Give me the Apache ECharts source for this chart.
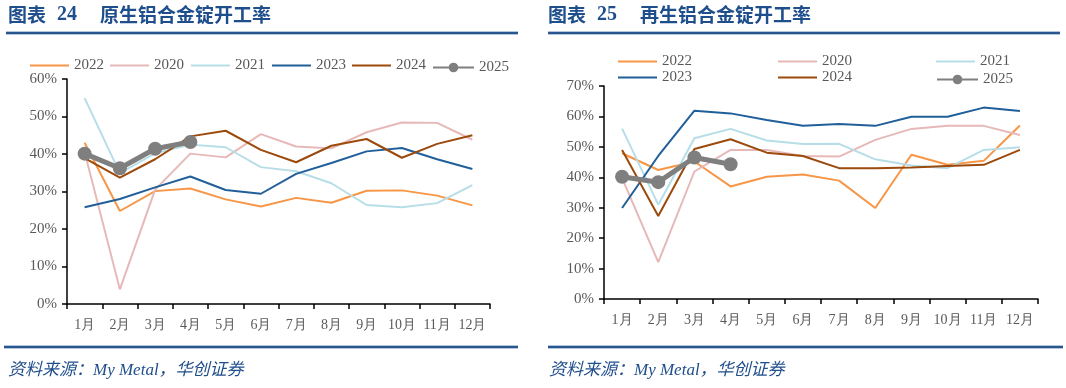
<!DOCTYPE html>
<html><head><meta charset="utf-8">
<script src="https://cdn.jsdelivr.net/npm/echarts@6/dist/echarts.min.js"></script>
<style>html,body{margin:0;padding:0;background:#fff}#c{width:1066px;height:388px}</style>
</head><body><div id="c"></div>
<script>
var months = ['1月','2月','3月','4月','5月','6月','7月','8月','9月','10月','11月','12月'];
var seriesNames = ['2022','2020','2021','2023','2024','2025'];
// Chart 24: primary aluminium alloy ingot operating rate (%)
var p2022 = [43.0,24.8,30.1,30.8,27.9,26.0,28.3,27.0,30.2,30.3,28.9,26.3];
var p2020 = [40.5,3.9,30.5,40.1,39.1,45.3,42.0,41.5,45.8,48.4,48.3,43.8];
var p2021 = [54.9,34.9,40.2,42.5,41.8,36.5,35.4,32.2,26.4,25.8,26.9,31.7];
var p2023 = [25.8,28.0,31.1,34.0,30.4,29.4,34.7,37.6,40.7,41.6,38.6,36.0];
var p2024 = [38.9,33.7,38.6,44.7,46.2,41.1,37.8,42.2,44.0,39.0,42.7,45.0];
var p2025 = [40.1,36.2,41.4,43.2];
// Chart 25: secondary aluminium alloy ingot operating rate (%)
var s2022 = [47.9,42.4,45.2,37.0,40.2,40.9,38.9,29.9,47.4,44.1,45.4,57.0];
var s2020 = [39.7,12.1,41.9,49.0,49.0,47.0,46.8,52.3,55.9,56.9,56.9,53.9];
var s2021 = [56.0,31.0,52.8,55.9,52.1,50.9,51.0,45.9,43.9,43.0,49.0,49.9];
var s2023 = [29.9,47.0,61.9,61.0,58.8,56.9,57.5,56.9,59.9,59.9,62.9,61.8];
var s2024 = [49.0,27.3,49.3,52.5,48.1,47.0,43.0,43.0,43.2,43.7,44.1,49.0];
var s2025 = [40.2,38.4,46.5,44.3];
var yTicks1 = {min:0,max:60,interval:10};
var yTicks2 = {min:0,max:70,interval:10};

var colors = {'2022':'#F79646','2020':'#E6B9B8','2021':'#B7DEE8','2023':'#215F9A','2024':'#9C4A0C','2025':'#7F7F7F'};
var serif = '"Liberation Serif","Times New Roman",serif';
var gray = '#595959';
var blue = '#1F4E8C';

function mkSeries(name, data, idx){
  var is25 = name === '2025';
  return {
    name: name, type:'line', data:data, xAxisIndex:idx, yAxisIndex:idx,
    showSymbol: is25, symbol:'circle', symbolSize: is25 ? 14 : 0,
    lineStyle:{width: is25 ? 5 : 2, color: colors[name]},
    itemStyle:{color: colors[name]},
    z: is25 ? 10 : 2, animation:false
  };
}
var series = [];
var d1 = [p2022,p2020,p2021,p2023,p2024,p2025];
var d2 = [s2022,s2020,s2021,s2023,s2024,s2025];
seriesNames.forEach(function(n,i){ series.push(mkSeries(n,d1[i],0)); });
seriesNames.forEach(function(n,i){ series.push(mkSeries(n,d2[i],1)); });

function xAx(g){
  return {type:'category', gridIndex:g, data:months, boundaryGap:true,
    axisLine:{lineStyle:{color:'#000',width:1.5}},
    axisTick:{show:true,alignWithLabel:false,length:5,lineStyle:{color:'#000',width:1.5}},
    axisLabel:{color:gray,fontFamily:serif,fontSize:14,margin:14,interval:0}};
}
function yAx(g,t){
  return {type:'value', gridIndex:g, min:t.min, max:t.max, interval:t.interval,
    axisLine:{show:true,lineStyle:{color:'#000',width:1.5}},
    axisTick:{show:true,length:5,lineStyle:{color:'#000',width:1.5}},
    splitLine:{show:false},
    axisLabel:{color:gray,fontFamily:serif,fontSize:15,margin:10,formatter:'{value}%'}};
}

var legends = [];
var leg1 = [[30,66],[110,66],[191,66],[272,66],[352,66],[432,66]];
var leg2 = [[618,62],[778,62],[936,62],[618,78],[778,78],[936,78]];
function addLegend(name,pos){
  var is25 = name==='2025';
  var item = is25 ? {name:name} : {name:name, icon:'rect'};
  legends.push({data:[item],
    left:pos[0], top:pos[1]-(is25?6:8), itemWidth: is25 ? 41 : 39, itemHeight: is25 ? 12 : 2.2, itemGap:3,
    textStyle:{color:gray,fontFamily:serif,fontSize:15,padding:[0,0,0,0]}, padding:0,
    selectedMode:false});
}
seriesNames.forEach(function(n,i){ addLegend(n,leg1[i]); });
seriesNames.forEach(function(n,i){ addLegend(n,leg2[i]); });

function rule(x1,x2,y){
  return [{type:'line',shape:{x1:x1,y1:y,x2:x2,y2:y},style:{stroke:'#9DB3D0',lineWidth:3.5},silent:true},
          {type:'line',shape:{x1:x1,y1:y,x2:x2,y2:y},style:{stroke:'#2A5690',lineWidth:2},silent:true}];
}
var graphics = [].concat(rule(6,518,33), rule(548,1060,33), rule(4,518,347), rule(548,1063,347));
var tfont = 'bold 19px "Noto Sans CJK SC"';
function title(x, num, txt){
  graphics.push({type:'text',left:x,top:5,style:{text:'图表',fill:blue,font:tfont}});
  graphics.push({type:'text',left:x+49,top:5,style:{text:num,fill:blue,font:'bold 20px "Liberation Serif"'}});
  graphics.push({type:'text',left:x+92,top:5,style:{text:txt,fill:blue,font:tfont}});
}
title(8,'24','原生铝合金锭开工率');
title(548,'25','再生铝合金锭开工率');
var sfont = 'italic 17px "Liberation Serif","Noto Sans CJK SC"';
graphics.push({type:'text',left:8,top:362,style:{text:'资料来源：My Metal，华创证券',fill:blue,font:sfont}});
graphics.push({type:'text',left:549,top:362,style:{text:'资料来源：My Metal，华创证券',fill:blue,font:sfont}});

var chart = echarts.init(document.getElementById('c'), null, {renderer:'canvas'});
chart.setOption({
  animation:false,
  backgroundColor:'#fff',
  grid:[{left:67,top:79,width:423,height:225},{left:604,top:86,width:434,height:213}],
  xAxis:[xAx(0),xAx(1)],
  yAxis:[yAx(0,yTicks1),yAx(1,yTicks2)],
  legend:legends,
  series:series,
  graphic:graphics
});
</script></body></html>
